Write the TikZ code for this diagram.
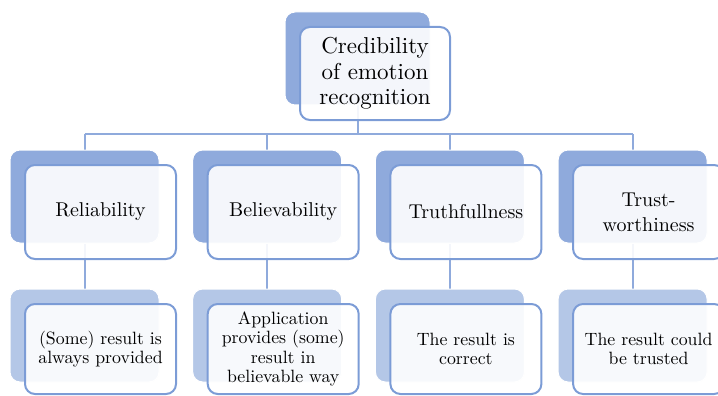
\documentclass[tikz,border=0pt]{standalone}
\usepackage{fontspec}
\setmainfont{lmroman10-regular.otf}[BoldFont=lmroman10-bold.otf]
\usepackage{tikz}
\usetikzlibrary{positioning,backgrounds}
\definecolor{myblue}{RGB}{143,170,220}
\definecolor{mylightblue}{RGB}{180,199,231}
\definecolor{myedge}{RGB}{124,156,214}
\tikzstyle{backbox}=[draw=white,line width=1pt,fill=myblue,rounded corners=10pt,minimum width=149pt,minimum height=93pt,inner sep=0pt]
\tikzstyle{lowbackbox}=[backbox,fill=mylightblue]
\tikzstyle{frontbox}=[draw=myedge,line width=2pt,fill=white,fill opacity=0.9,text opacity=1,rounded corners=10pt,minimum width=151pt,minimum height=94pt,align=center,inner sep=0pt,font=\fontsize{20}{25}\selectfont]
\tikzstyle{lowfrontbox}=[frontbox,minimum height=90pt,font=\fontsize{17.8}{19.5}\selectfont]
\tikzstyle{conn}=[draw=myblue,line width=2pt]

\begin{document}
\begin{tikzpicture}[x=1pt,y=-1pt]
\useasboundingbox (0,0) rectangle (718,396);
\clip (0,0) rectangle (718,396);
% top
\draw (357.5,58.5) node [backbox, minimum width=145pt] (cred-bk) {};
\draw (375,73.5) node [frontbox, minimum width=150pt, minimum height=93pt, font=\fontsize{23}{25.5}\selectfont] (cred) {Credibility\\of emotion\\recognition};
% second row
\draw (84.5,196.5) node [backbox] (rel-bk) {};
\draw (100.5,212) node [frontbox] (rel) {Reliability};
\draw (267.2,196.5) node [backbox] (bel-bk) {};
\draw (283.2,212) node [frontbox] (bel) {Believability};
\draw (449.9,196.5) node [backbox] (tru-bk) {};
\draw (465.9,212) node [frontbox] (tru) {Truthfullness};
\draw (632.6,196.5) node [backbox] (trw-bk) {};
\draw (648.6,212) node [frontbox] (trw) {Trust-\\worthiness};
% third row
\draw (84.5,335.5) node [lowbackbox] (rel-lobk) {};
\draw (100.5,349) node [lowfrontbox] (rel-lo) {(Some) result is\\always provided};
\draw (267.2,335.5) node [lowbackbox] (bel-lobk) {};
\draw (283.2,349) node [lowfrontbox] (bel-lo) {Application\\provides (some)\\result in\\believable way};
\draw (449.9,335.5) node [lowbackbox] (tru-lobk) {};
\draw (465.9,349) node [lowfrontbox] (tru-lo) {The result is\\correct};
\draw (632.6,335.5) node [lowbackbox] (trw-lobk) {};
\draw (648.6,349) node [lowfrontbox] (trw-lo) {The result could\\be trusted};
\begin{scope}[on background layer]
\coordinate (bus) at (0,134);
\draw[conn] (cred-bk.south) -- (cred-bk.south |- bus);
\draw[conn] (rel-bk.north |- bus) -- (trw-bk.north |- bus);
\foreach \n in {rel,bel,tru,trw} {
  \draw[conn] (\n-bk.north |- bus) -- (\n-bk.north);
  \draw[conn] (\n-bk.south) -- (\n-lobk.north);
}
\end{scope}
\end{tikzpicture}
\end{document}
